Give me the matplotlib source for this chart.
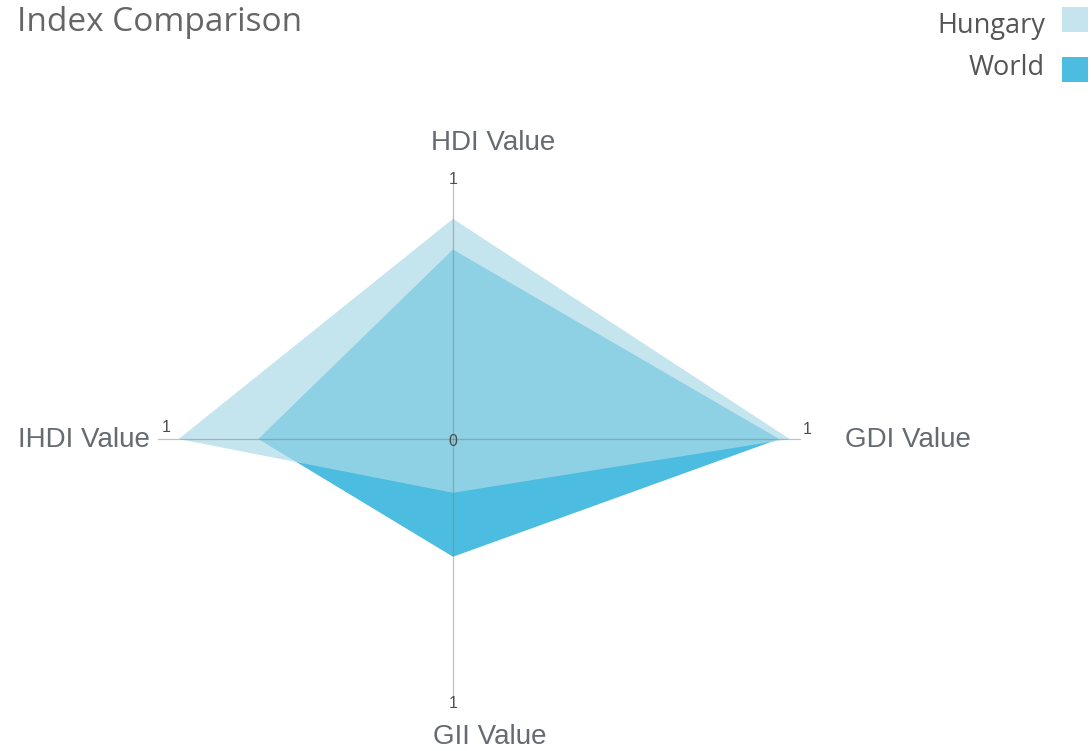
import matplotlib.pyplot as plt
import numpy as np

# data
axes_labels = ['HDI Value', 'GDI Value', 'GII Value', 'IHDI Value']
hungary = [0.86, 0.97, 0.21, 0.93]
world = [0.74, 0.94, 0.46, 0.66]
series_names = ['Hungary', 'World']

# layout (pixel space, y down)
W, H = 1091, 751
cx, cy = 453, 439
# each spoke has its own length in this chart (stretched radar)
radii = [256, 347, 256, 295]
dirs = [(0, -1), (1, 0), (0, 1), (-1, 0)]

def to_xy(vals):
    xs = [cx + dx * r * v for (dx, dy), r, v in zip(dirs, radii, vals)]
    ys = [cy + dy * r * v for (dx, dy), r, v in zip(dirs, radii, vals)]
    return xs, ys

fig = plt.figure(figsize=(W / 100, H / 100), dpi=100)
ax = fig.add_axes([0, 0, 1, 1])
ax.set_xlim(0, W)
ax.set_ylim(H, 0)
ax.axis('off')

world_col = '#4cbde0'
hung_col = '#abd9e7'

wx, wy = to_xy(world)
ax.fill(wx, wy, color=world_col, lw=0, zorder=2)
hx, hy = to_xy(hungary)
ax.fill(hx, hy, color=hung_col, alpha=0.7, lw=0, zorder=3)

# spokes
for (dx, dy), r in zip(dirs, radii):
    ax.plot([cx, cx + dx * r], [cy, cy + dy * r], color='#7d838e', lw=0.9,
            alpha=0.5, zorder=4)

tick_kw = dict(fontsize=11.5, color='#4d4d4d', family='Liberation Sans', zorder=5)
ax.text(cx, cy + 2, '0', ha='center', va='center', **tick_kw)
ax.text(cx, cy - radii[0] - 3, '1', ha='center', va='center', **tick_kw)
ax.text(cx + radii[1] + 3, cy - 10, '1', ha='left', va='center', **tick_kw)
ax.text(cx, cy + radii[2] + 8, '1', ha='center', va='center', **tick_kw)
ax.text(cx - radii[3] + 4, cy - 12, '1', ha='left', va='center', **tick_kw)

lab_kw = dict(fontsize=20, color='#666a72', family='Liberation Sans', zorder=5)
ax.text(493, 143, axes_labels[0], ha='center', va='center', **lab_kw)
ax.text(845, 440, axes_labels[1], ha='left', va='center', **lab_kw)
ax.text(490, 737, axes_labels[2], ha='center', va='center', **lab_kw)
ax.text(150, 440, axes_labels[3], ha='right', va='center', **lab_kw)

ax.text(17, 31, 'Index Comparison', ha='left', va='baseline', fontsize=24,
        color='#666666', family='Open Sans')

# legend
leg_cols = ['#c5e4ee', world_col]
for i, (name, c) in enumerate(zip(series_names, leg_cols)):
    ax.add_patch(plt.Rectangle((1062, 7 + i * 50), 26, 25, color=c, lw=0))
    ax.text(1045, 33 + i * 42, name, ha='right', va='baseline', fontsize=19.5,
            color='#555555', family='Open Sans')

fig.savefig('out.png', dpi=100)
